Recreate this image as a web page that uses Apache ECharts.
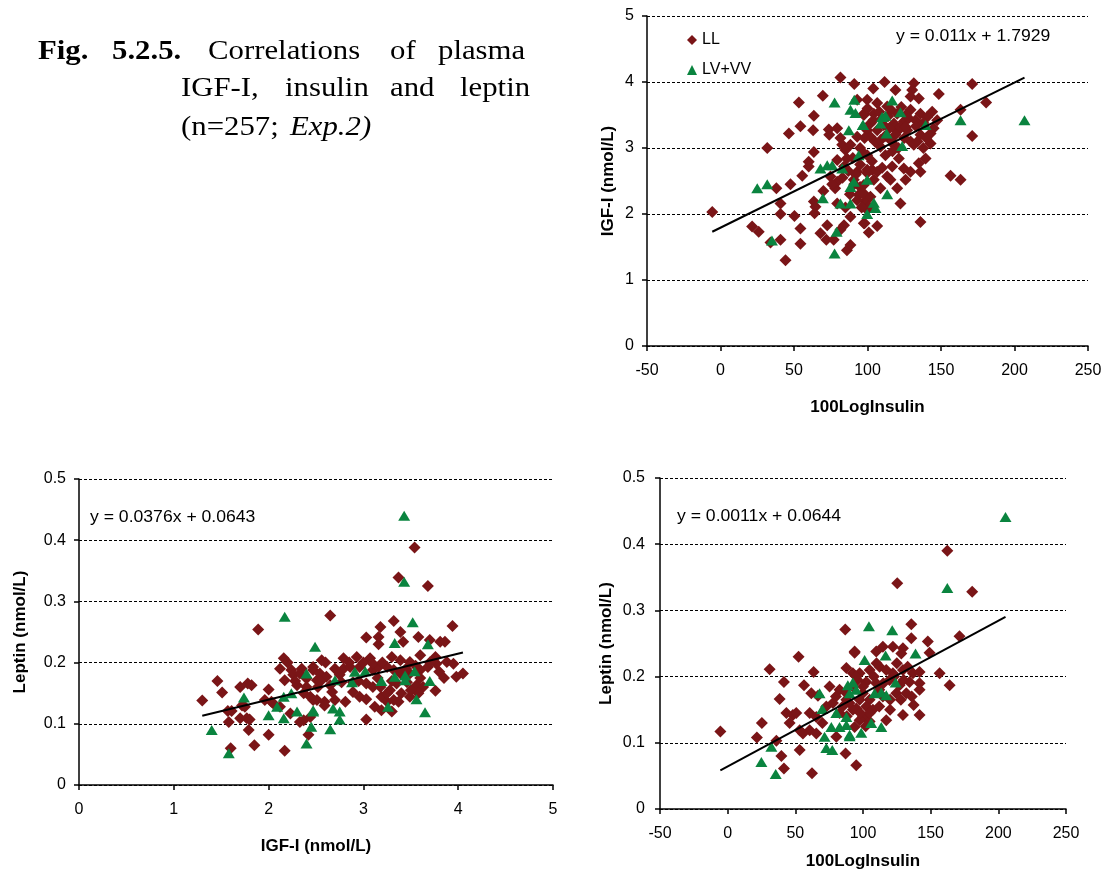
<!DOCTYPE html>
<html>
<head>
<meta charset="utf-8">
<script src="https://cdn.jsdelivr.net/npm/echarts@6/dist/echarts.min.js"></script>
<style>
html,body{margin:0;padding:0;background:#fff;}
#main{width:1111px;height:872px;}
</style>
</head>
<body>
<div id="main"></div>
<script>
// IGF-I vs 100LogInsulin (top right)
var trLL = [[81.6,4.07],[91,3.97],[69.6,3.79],[53.3,3.69],[63.5,3.49],[54.4,3.33],[63,3.27],[46.5,3.22],[73.7,3.28],[79.4,3.30],[74,3.20],[81.6,3.15],[82.8,3.05],[31.8,3.0],[63.5,2.94],[85,2.97],[86,2.84],[60,2.79],[60,2.72],[55.6,2.58],[47.6,2.45],[38,2.39],[74.8,2.57],[79.4,2.49],[78,2.39],[93,2.64],[95,2.41],[94,2.29],[98.6,2.19],[40.8,2.16],[63.5,2.19],[64.6,2.11],[64,2.01],[40.8,2.0],[50.3,1.97],[-5.6,2.03],[21.5,1.81],[26,1.73],[54.4,1.78],[72.6,1.83],[68,1.71],[84,1.83],[81.6,1.76],[72,1.61],[77,1.61],[40.8,1.61],[34,1.57],[54.4,1.55],[86,1.45],[88.4,1.53],[44.2,1.30],[97.5,1.86],[88.4,1.96],[97.5,3.52],[93,3.73],[99.8,3.27],[93,3.17],[97.5,2.92],[99.8,2.67],[90.7,2.52],[97.5,2.31],[93,2.21],[99.8,2.06],[79.4,2.16],[84,2.72],[79.4,2.82],[88.4,3.05],
  [111.6,4.0],[131.5,3.98],[130.4,3.88],[129.3,3.78],[103.9,3.90],[119,3.88],[171.2,3.97],[148.5,3.82],[180.7,3.69],[134.9,3.75],[163.3,3.58],[171.2,3.18],[99.8,3.73],[106.6,3.68],[113.4,3.63],[104.3,3.52],[120.2,3.52],[129.3,3.58],[136,3.52],[144,3.55],[97.5,3.5],[102,3.37],[118,3.37],[124.7,3.40],[132.7,3.42],[140.6,3.47],[147.4,3.42],[106.6,3.27],[120.2,3.25],[127,3.27],[136,3.20],[142.9,3.22],[102,3.17],[115.6,3.12],[129.3,3.10],[142.9,3.07],[131.5,3.05],[108.8,3.02],[122.4,3.32],[110,3.45],[115,3.3],[125,3.15],[112,3.18],[118,3.05],[133,3.33],[138,3.38],[105,3.1],[126,3.5],[140,3.15],[145,3.3],
  [99.8,2.89],[112.2,2.89],[121.3,2.84],[139.5,2.84],[134.9,2.77],[116.8,2.72],[124.7,2.69],[129.3,2.64],[136,2.64],[103.2,2.67],[99.8,2.62],[106.6,2.64],[113.4,2.57],[115.6,2.52],[104.3,2.52],[125.9,2.52],[120.2,2.39],[108.8,2.39],[97.5,2.44],[156.5,2.58],[163.3,2.52],[122.4,2.16],[102,2.26],[96.4,2.31],[100.9,2.11],[98,1.86],[106.6,1.82],[100.9,1.72],[136,1.88],
  [100,3.6],[108,3.55],[116,3.58],[123,3.62],[111,3.35],[119,3.2],[126,3.32],[134,3.1],[104,3.42],[98,3.15],[109,3.12],[121,3.0],[138,3.0],[114,3.48],[128,3.45],[95,3.0],[90,2.85],[92,2.6],[88,2.3],[85,2.1],[95,2.75],[103,2.8],[110,2.7],[117,2.95],[83,2.55],[87,2.65],[76,2.45],[70,2.35],[91,2.45],[96,2.1]];
var trLV = [[77.6,3.69],[91,3.73],[88.4,3.58],[91.8,3.53],[87.3,3.27],[96.8,3.35],[94,2.89],[68,2.69],[72.6,2.74],[76,2.74],[82.8,2.69],[25,2.39],[31.8,2.45],[88.4,2.41],[90.7,2.49],[99.8,2.52],[69.6,2.24],[81.6,2.16],[88.4,2.16],[99.8,2.0],[79,1.73],[35,1.60],[77.6,1.40],
  [116.8,3.72],[122.4,3.54],[110,3.47],[112.2,3.49],[108.8,3.37],[97,3.35],[139.5,3.35],[113,3.22],[163.3,3.42],[206.8,3.42],[123.6,3.03],[113.4,2.30],[104.3,2.17],[105.4,2.09]];
var trFit = [0.011, 1.7929];

// Leptin vs IGF-I (bottom left)
var blLL = [[1.30,0.138],[1.46,0.170],[1.51,0.151],[1.57,0.121],[1.61,0.121],[1.58,0.103],[1.60,0.060],[1.70,0.160],[1.78,0.166],[1.82,0.163],[1.72,0.130],[1.75,0.128],[1.70,0.109],[1.77,0.109],[1.80,0.107],[1.79,0.090],[1.85,0.065],[1.89,0.254],[2.0,0.156],[1.96,0.139],[2.03,0.136],[2.0,0.082],[2.17,0.056],[2.16,0.207],[2.12,0.190],[2.24,0.188],[2.26,0.180],[2.17,0.171],[2.30,0.163],[2.33,0.182],[2.40,0.174],[2.47,0.188],[2.51,0.171],[2.37,0.150],[2.44,0.144],[2.51,0.139],[2.37,0.106],[2.33,0.103],[2.42,0.082],[2.05,0.133],[2.12,0.128],[2.23,0.117],
  [3.54,0.388],[3.37,0.339],[3.68,0.325],[2.65,0.277],[3.18,0.258],[3.32,0.268],[3.94,0.260],[3.03,0.241],[3.16,0.242],[3.16,0.230],[3.39,0.250],[3.42,0.234],[3.58,0.242],[3.70,0.237],[3.81,0.234],[3.86,0.234],[3.60,0.212],[3.76,0.209],[2.56,0.204],[2.79,0.207],[2.93,0.209],[3.07,0.207],[3.30,0.209],[3.39,0.204],[3.49,0.201],[3.88,0.201],[3.95,0.198],[3.98,0.177],[4.05,0.182],[2.47,0.193],[2.54,0.182],[2.61,0.177],[2.79,0.190],[2.86,0.193],[2.96,0.193],[3.10,0.188],[3.16,0.193],[3.25,0.193],[3.32,0.188],[3.39,0.182],[3.49,0.182],[3.60,0.188],[3.68,0.193],[3.77,0.198],[2.52,0.160],[2.65,0.163],[2.77,0.168],[2.89,0.168],[3.03,0.166],[3.18,0.160],[3.28,0.155],[3.35,0.166],[3.46,0.168],[3.56,0.163],[3.63,0.160],[2.47,0.139],[2.59,0.136],[2.67,0.152],[2.70,0.139],[2.89,0.152],[2.96,0.144],[2.81,0.136],[3.19,0.144],[3.25,0.136],[3.32,0.139],[3.37,0.136],[3.49,0.144],[3.58,0.150],[3.76,0.154],[3.03,0.140],[3.12,0.128],[3.19,0.122],[3.30,0.120],[2.59,0.130],[3.03,0.107],[2.44,0.111],
  [2.6,0.2],[2.7,0.19],[2.85,0.2],[3.0,0.2],[3.1,0.198],[3.2,0.2],[3.45,0.19],[3.55,0.195],[3.7,0.2],[3.8,0.185],[3.3,0.17],[3.15,0.175],[2.95,0.17],[2.75,0.18],[2.55,0.17],[3.5,0.155],[3.4,0.15],[3.6,0.175],[3.85,0.175],[2.4,0.16],[2.28,0.17],[2.35,0.19],[2.2,0.2],[3.25,0.15],[3.1,0.16]];
var blLV = [[2.17,0.275],[2.49,0.226],[2.40,0.182],[1.74,0.143],[1.40,0.090],[1.58,0.052],[2.0,0.114],[2.09,0.128],[2.16,0.144],[2.24,0.150],[2.16,0.109],[2.30,0.120],[2.47,0.120],[2.45,0.095],[2.40,0.068],
  [3.43,0.440],[3.43,0.332],[3.52,0.266],[3.33,0.232],[3.68,0.230],[2.91,0.185],[3.02,0.186],[2.70,0.171],[2.88,0.168],[3.19,0.170],[3.33,0.177],[3.44,0.179],[3.44,0.171],[3.54,0.186],[3.70,0.170],[3.56,0.140],[3.26,0.128],[3.65,0.119],[2.68,0.125],[2.75,0.120],[2.75,0.107],[2.47,0.122],[2.65,0.091]];
var blFit = [0.0376, 0.0643];

// Leptin vs 100LogInsulin (bottom right)
var brLL = [[86.9,0.271],[52.4,0.230],[31.0,0.211],[63.5,0.207],[41.6,0.192],[56.4,0.187],[38.4,0.166],[61.8,0.175],[66.7,0.171],[43.4,0.145],[48.2,0.142],[50.7,0.145],[45.8,0.130],[25.3,0.130],[-5.4,0.117],[21.6,0.108],[36,0.103],[39.7,0.080],[53.2,0.089],[41.6,0.061],[62.3,0.054],[87.1,0.084],[95,0.066],[87.7,0.213],[92.5,0.205],[93.8,0.238],[60.6,0.145],[65.5,0.139],[60.6,0.119],[72.9,0.155],[77.8,0.160],[82.7,0.145],[87.7,0.165],[92.5,0.150],[75.3,0.185],[82.7,0.180],[87.7,0.175],[92.5,0.185],[80.3,0.109],[65.5,0.114],[55.6,0.114],[53.2,0.119],
  [162.3,0.390],[125.3,0.341],[180.7,0.328],[135.7,0.279],[171.3,0.261],[135.7,0.258],[147.9,0.253],[149.2,0.236],[93.8,0.236],[109.8,0.238],[114.7,0.245],[122.1,0.245],[129.5,0.243],[128.3,0.235],[156.6,0.205],[164,0.187],[97.5,0.205],[104.9,0.210],[112.3,0.215],[117.2,0.210],[122.1,0.205],[129.5,0.210],[136.9,0.205],[141.8,0.207],[102.4,0.192],[109.8,0.190],[119.6,0.195],[127,0.187],[134.4,0.192],[141.8,0.190],[99.9,0.175],[97.5,0.165],[104.9,0.165],[114.7,0.170],[124.6,0.175],[132,0.175],[141.8,0.180],[95,0.152],[102.4,0.155],[107.3,0.150],[99.9,0.139],[104.9,0.132],[97.5,0.134],[137.4,0.157],[129.5,0.142],[141.8,0.142],[117.2,0.134],[93.8,0.124],
  [100,0.185],[108,0.2],[115,0.19],[123,0.2],[130,0.195],[96,0.195],[112,0.18],[120,0.165],[128,0.165],[136,0.17],[105,0.145],[112,0.155],[120,0.15],[98,0.145],[90,0.16],[85,0.155],[80,0.17],[95,0.2],[110,0.22],[125,0.22],[133,0.215],[102,0.125],[88,0.14],[70,0.13]];
var brLV = [[67.9,0.175],[69.9,0.151],[80.3,0.145],[87.7,0.139],[82.7,0.124],[87.7,0.127],[90.1,0.112],[76.6,0.124],[71.6,0.109],[72.9,0.092],[77.3,0.089],[88.8,0.187],[92.5,0.191],[32.3,0.094],[24.9,0.071],[35.5,0.053],
  [205.3,0.441],[162.3,0.334],[104.4,0.276],[121.6,0.270],[101.2,0.225],[116.7,0.232],[138.8,0.235],[124.1,0.191],[95,0.180],[90.1,0.175],[108.6,0.175],[113.5,0.176],[117.2,0.172],[106.1,0.130],[113.5,0.124],[98.7,0.115],[90.1,0.110]];
var brFit = [0.0011, 0.0644];

var red = '#7a1517', green = '#0a843f';
var font = 'Liberation Sans, Arial, sans-serif';

function fitLine(fit, sets){
	var xs = [];
	sets.forEach(function(s){ s.forEach(function(p){ xs.push(p[0]); }); });
	var a = Math.min.apply(null, xs), b = Math.max.apply(null, xs);
	return [[a, fit[0]*a + fit[1]], [b, fit[0]*b + fit[1]]];
}
function eqText(fit){
	return 'y = ' + fit[0] + 'x + ' + fit[1];
}
function axis(grid, min, max, interval, name, nameGap, isY, margin){
	return {
		type:'value', gridIndex:grid, min:min, max:max, interval:interval,
		name:name, nameLocation:'middle', nameGap:nameGap,
		nameTextStyle:{fontFamily:font, fontSize:17, fontWeight:'bold', color:'#000'},
		axisLine:{show:true, onZero:false, lineStyle:{color:'#000', width:1.5}},
		axisTick:{show:true, inside:false, length:5, lineStyle:{color:'#000', width:1.5}},
		axisLabel:{fontFamily:font, fontSize:16, color:'#000', margin:margin},
		splitLine:{show:isY, lineStyle:{color:'#000', width:1, type:[3,2]}}
	};
}
function scat(name, grid, data, sym, size, color){
	return {name:name, type:'scatter', xAxisIndex:grid, yAxisIndex:grid, data:data,
		symbol:sym, symbolSize:size, itemStyle:{color:color, opacity:1}, z: sym=='triangle'?3:2};
}
function trend(grid, data){
	return {type:'line', xAxisIndex:grid, yAxisIndex:grid, data:data, showSymbol:false,
		lineStyle:{color:'#000', width:2}, z:5, silent:true};
}
function word(t, x, y, opt){
	opt = opt || {};
	return {type:'text', x:x, y:y, scaleX:opt.sx||1.14, silent:true,
		style:{text:t, fill:'#000', fontFamily:opt.ff||'Liberation Serif, Times New Roman, serif',
			fontSize:opt.fs||27, fontWeight:opt.fw||'normal', fontStyle:opt.it||'normal',
			textVerticalAlign:'middle', verticalAlign:'middle'}};
}

var chart = echarts.init(document.getElementById('main'));
var option = {
	animation:false,
	backgroundColor:'#fff',
	grid:[
		{left:647, top:16, width:441, height:330},
		{left:79, top:479, width:474, height:306},
		{left:660, top:478, width:406, height:331}
	],
	xAxis:[
		axis(0, -50, 250, 50, '100LogInsulin', 53, false, 17),
		axis(1, 0, 5, 1, 'IGF-I (nmol/L)', 53, false, 17),
		axis(2, -50, 250, 50, '100LogInsulin', 44, false, 17)
	],
	yAxis:[
		axis(0, 0, 5, 1, 'IGF-I (nmol/L)', 30, true, 13),
		axis(1, 0, 0.5, 0.1, 'Leptin (nmol/L)', 50, true, 13),
		axis(2, 0, 0.5, 0.1, 'Leptin (nmol/L)', 45, true, 15)
	],
	legend:{
		orient:'vertical', left:682, top:27, itemWidth:10, itemHeight:10, itemGap:14,
		selectedMode:false, textStyle:{fontFamily:font, fontSize:16, color:'#000'},
		data:[{name:'LL', icon:'diamond'}, {name:'LV+VV', icon:'triangle'}]
	},
	series:[
		scat('LL', 0, trLL, 'diamond', 12, red),
		scat('LV+VV', 0, trLV, 'triangle', [12,10], green),
		trend(0, fitLine(trFit, [trLL, trLV])),
		scat('LL', 1, blLL, 'diamond', 12, red),
		scat('LV+VV', 1, blLV, 'triangle', [12,10], green),
		trend(1, fitLine(blFit, [blLL, blLV])),
		scat('LL', 2, brLL, 'diamond', 12, red),
		scat('LV+VV', 2, brLV, 'triangle', [12,10], green),
		trend(2, fitLine(brFit, [brLL, brLV]))
	],
	graphic:[
		word(eqText(trFit), 896, 37, {ff:font, fs:16, sx:1.1}),
		word(eqText(blFit), 90, 518, {ff:font, fs:16, sx:1.1}),
		word(eqText(brFit), 677, 517, {ff:font, fs:16, sx:1.1}),
		word('Fig.', 38, 52, {fw:'bold'}),
		word('5.2.5.', 112, 52, {fw:'bold'}),
		word('Correlations', 208, 52),
		word('of', 390, 52),
		word('plasma', 438, 52),
		word('IGF-I,', 181, 89),
		word('insulin', 285, 89),
		word('and', 390, 89),
		word('leptin', 460, 89),
		word('(n=257;', 181, 128),
		word('Exp.2)', 290, 128, {it:'italic'})
	]
};
chart.setOption(option);
</script>
</body>
</html>
